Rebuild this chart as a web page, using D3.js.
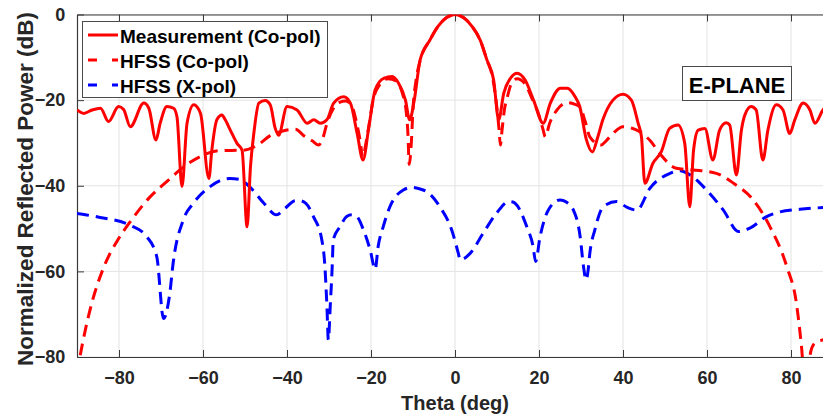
<!DOCTYPE html>
<html><head><meta charset="utf-8">
<script src="https://cdn.jsdelivr.net/npm/d3@7"></script>
<style>
html,body{margin:0;padding:0;background:#fff;overflow:hidden}
text{font-family:"Liberation Sans",Arial,sans-serif;font-weight:bold}
</style></head><body>
<svg id="chart" width="823" height="417"></svg>
<script>
// ---- data ----
const xTicks = [-80, -60, -40, -20, 0, 20, 40, 60, 80];
const yTicks = [0, -20, -40, -60, -80];
const seriesNames = ["Measurement (Co-pol)", "HFSS (Co-pol)", "HFSS (X-pol)"];

const measTheta = [-90,-88.4,-86.4,-84.4,-82.5,-80.1,-78.9,-77.3,-74.1,-72.9,-71.2,-70.2,-68.6,-67.0,-66.2,-65.0,-63.8,-62.2,-60.6,-58.6,-57.9,-56.7,-55.5,-54.7,-53.5,-51.9,-50.7,-49.5,-48.7,-47.9,-46.7,-45.2,-44.0,-42.8,-42.0,-40.0,-37.6,-35.2,-33.6,-32.1,-30.5,-28.9,-26.5,-24.9,-23.3,-21.9,-20.5,-19.0,-17.0,-15.0,-13.4,-11.8,-10.8,-9.7,-8.3,-6,-4,-2,0,2,4,6,7.6,9.2,10.4,11.6,13.2,14.8,16.7,18.7,21.0,22.7,25.1,26.7,28.6,29.7,31.3,32.7,34.0,35.2,37.6,40.0,42.0,43.6,44.4,45.2,47.1,49.1,51.1,53.1,54.7,55.9,56.8,57.9,59.5,61.4,63.0,64.6,65.4,67.0,68.2,69.0,70.5,71.7,73.3,74.5,76.5,78.1,79.7,80.9,82.9,84.5,85.7,87.6,90];
const measDb = [-22.3,-23.1,-22.3,-21.9,-25.0,-21.5,-22.2,-26.2,-20.7,-21.9,-29.3,-25.4,-21.5,-21.9,-23.9,-40.2,-25.4,-21.1,-23.1,-38.3,-31.7,-24.6,-23.5,-24.6,-27.0,-30.1,-31.7,-49.6,-35.6,-27.8,-20.7,-20.1,-21.1,-26.6,-28.2,-21.5,-22.3,-25.4,-24.6,-25.4,-24.6,-20.7,-19.2,-20.7,-27.8,-34.0,-26.2,-17.6,-14.9,-14.5,-16.1,-20.0,-24.6,-20.0,-10.6,-6.0,-2.7,-0.7,0,-0.7,-2.7,-6.0,-10.6,-15.3,-24.6,-18.4,-14.9,-13.7,-15.3,-20.0,-25.4,-20.7,-17.2,-17.2,-19.2,-21.5,-29.3,-32.1,-28.6,-24.6,-20.0,-18.6,-20.0,-25.4,-28.6,-39.4,-34.8,-32.1,-26.6,-25.8,-30.1,-44.9,-31.7,-27.0,-26.6,-34.0,-27.0,-25.3,-25.8,-37.5,-27.0,-23.5,-21.5,-22.3,-34.0,-27.0,-21.1,-22.3,-27.8,-24.6,-20.7,-22.3,-25.4,-22.3,-20.5];

const coTheta = [-90,-89.3,-86.9,-83.7,-80.5,-77.4,-72.6,-68,-65.5,-60.7,-56,-50.5,-47,-44,-41,-38,-36,-34,-32.5,-31.5,-30.5,-29,-27.5,-26,-24.5,-23.5,-22.5,-22,-21.2,-20.5,-19.5,-18,-16,-14,-12.5,-11.7,-11.2,-10.9,-10.4,-10,-9.3,-8.3,-6,-4,-2,0,2,4,6,7.6,9,10,10.5,10.8,11.2,11.8,12.4,13.5,14.8,16.5,18.5,20,21,21.5,22.5,24.3,26.7,28.6,29.7,31,32.1,34.8,36,37.6,40,42,44,46.5,48.7,52.7,56.7,62.2,66.3,71,75,79,81.3,82.5,83.2,84.1,84.9,86,87.6,90];
const coDb = [-84,-80,-69,-59.2,-53,-48.5,-42.6,-38.5,-36.3,-33.2,-31.8,-31.7,-30.5,-28.3,-27.2,-26.8,-28.3,-29.5,-30.5,-29,-25.5,-22,-20.5,-20.2,-21.5,-25,-30,-33.5,-30,-26,-20,-16.5,-15,-15.5,-18.5,-22,-28,-35,-30,-22,-15.5,-10.8,-6.0,-2.7,-0.7,0,-0.7,-2.7,-6.0,-10.6,-15,-22,-27,-30.5,-27,-22,-19.5,-16,-15,-16,-20,-23.5,-27,-28.6,-25.5,-22.3,-20.6,-21,-21.5,-25,-28.6,-30.5,-29.5,-27.8,-26.2,-26.5,-27.4,-29.5,-32.4,-35.9,-36.3,-37.1,-39.4,-43.3,-49.6,-58.9,-67.5,-77.6,-85,-82,-78,-76.5,-76,-75];

const xTheta = [-90,-84.5,-77.4,-73.4,-71.0,-69.4,-67.9,-67.1,-64.7,-62.3,-58.3,-53.6,-51.5,-49.6,-48.7,-45.5,-42.5,-40.5,-38,-36.9,-35.5,-33.7,-31.7,-31.0,-30.5,-30.15,-29.7,-29.2,-29.0,-27.4,-25.8,-24.6,-23.4,-21.8,-20.2,-19.0,-18.3,-17.1,-15.5,-12.3,-10.3,-8.5,-6.7,-3.6,-0.8,0.8,1.2,3.6,6.7,9.9,12.8,13.8,14.7,17.1,18.6,19.2,20.2,22.2,25,26.5,28.2,29.8,30.6,31.2,31.7,32.1,33.3,35.3,38.5,40.9,43.3,46.4,51.2,53.6,56,59.9,63.9,67.5,70.2,74.2,77.4,82.1,87.6,90];
const xDb = [-46.5,-47.4,-49.2,-51.9,-56.6,-71.0,-65.1,-58.0,-48.0,-44.1,-40.2,-38.3,-38.5,-39.6,-40.4,-44.1,-46.8,-45.3,-43.5,-43.5,-44.1,-47.2,-52.7,-58.5,-68,-76,-68,-58,-52.7,-49.6,-47.2,-46.8,-47.2,-50.3,-55,-59.5,-54.2,-49.6,-44.9,-41.0,-40.4,-40.7,-41.4,-44.9,-50.3,-55.8,-57.3,-55.8,-51.1,-46.4,-43.7,-43.8,-44.5,-49.6,-54.2,-57.7,-52.2,-45.7,-43.3,-43.8,-45.7,-51.9,-58.9,-62.0,-59.7,-55.8,-50.3,-44.9,-43.7,-45.0,-45.7,-40.6,-37.1,-36.5,-37.5,-41.0,-45.7,-50.7,-49.9,-47.2,-46.1,-45.5,-45.1,-45.0];

// ---- layout ----
const svg = d3.select("#chart");
const L = 77, R = 833, T = 14.5, B = 357;
const x = d3.scaleLinear().domain([-90, 90]).range([L, R]);
const y = d3.scaleLinear().domain([-80, 0]).range([B, T]);
const axisCol = "#3a3a3a";

svg.append("defs").append("clipPath").attr("id","clip")
  .append("rect").attr("x",L).attr("y",T).attr("width",R-L).attr("height",B-T);

// grid
const grid = svg.append("g");
grid.selectAll("line.gx").data(xTicks).join("line")
  .attr("x1",d=>x(d)).attr("x2",d=>x(d)).attr("y1",T).attr("y2",B)
  .attr("stroke","#e3e3e3").attr("stroke-width",1);
grid.selectAll("line.gy").data(yTicks).join("line")
  .attr("y1",d=>y(d)).attr("y2",d=>y(d)).attr("x1",L).attr("x2",R)
  .attr("stroke","#e3e3e3").attr("stroke-width",1);

// axes
const xb = svg.append("g").attr("transform",`translate(0,${B})`)
  .call(d3.axisBottom(x).tickValues(xTicks).tickSizeInner(-7).tickSizeOuter(0).tickPadding(14));
const xt = svg.append("g").attr("transform",`translate(0,${T})`)
  .call(d3.axisTop(x).tickValues(xTicks).tickSizeInner(-7).tickSizeOuter(0).tickFormat(""));
const yl = svg.append("g").attr("transform",`translate(${L},0)`)
  .call(d3.axisLeft(y).tickValues(yTicks).tickSizeInner(-7).tickSizeOuter(0).tickPadding(10));
[xb,xt,yl].forEach(g=>{
  g.select(".domain").attr("stroke",axisCol).attr("stroke-width",1.2);
  g.selectAll(".tick line").attr("stroke",axisCol).attr("stroke-width",1);
  g.selectAll(".tick text").attr("fill","#262626").style("font-size","18px")
   .style("font-family","'Liberation Sans',Arial,sans-serif").style("font-weight","bold");
});
xb.selectAll(".tick text").attr("dy","0.71em");
yl.selectAll(".tick text").attr("dx","-0.1em");

// axis titles
svg.append("text").attr("x",455).attr("y",410).attr("text-anchor","middle")
  .attr("fill","#262626").style("font-size","20px").text("Theta (deg)");
svg.append("text").attr("transform","translate(33,189) rotate(-90)").attr("text-anchor","middle")
  .attr("fill","#262626").style("font-size","22.5px").text("Normalized Reflected Power (dB)");

// curves
const line = d3.line().x(d=>x(d[0])).y(d=>y(d[1])).curve(d3.curveMonotoneX);
const plot = svg.append("g").attr("clip-path","url(#clip)");
plot.append("path").datum(d3.zip(xTheta, xDb)).attr("d",line)
  .attr("fill","none").attr("stroke","#0000ff").attr("stroke-width",3).attr("stroke-dasharray","12,7");
plot.append("path").datum(d3.zip(coTheta, coDb)).attr("d",line)
  .attr("fill","none").attr("stroke","#ff0000").attr("stroke-width",3).attr("stroke-dasharray","12,7");
plot.append("path").datum(d3.zip(measTheta, measDb)).attr("d",line)
  .attr("fill","none").attr("stroke","#ff0000").attr("stroke-width",3).attr("stroke-linejoin","round");

// legend
const lg = svg.append("g");
lg.append("rect").attr("x",82.5).attr("y",21.5).attr("width",245).attr("height",76)
  .attr("fill","#fff").attr("stroke","#4a4a4a").attr("stroke-width",1);
const legendStyles = [
  {c:"#ff0000", dash:null},
  {c:"#ff0000", dash:"9,15"},
  {c:"#0000ff", dash:"9,15"}
];
seriesNames.forEach((n,i)=>{
  const yy = 35 + i*25;
  const ln = lg.append("line").attr("x1",88).attr("x2",118).attr("y1",yy).attr("y2",yy)
    .attr("stroke",legendStyles[i].c).attr("stroke-width",3);
  if (legendStyles[i].dash) ln.attr("stroke-dasharray",legendStyles[i].dash);
  lg.append("text").attr("x",120).attr("y",yy+7.5).attr("fill","#000")
    .style("font-size","19px").text(n);
});

// annotation
svg.append("rect").attr("x",682.5).attr("y",66.5).attr("width",109).attr("height",34)
  .attr("fill","#fff").attr("stroke","#4a4a4a").attr("stroke-width",1);
svg.append("text").attr("x",737).attr("y",92.5).attr("text-anchor","middle")
  .attr("fill","#000").style("font-size","22px").text("E-PLANE");
</script>
</body></html>
